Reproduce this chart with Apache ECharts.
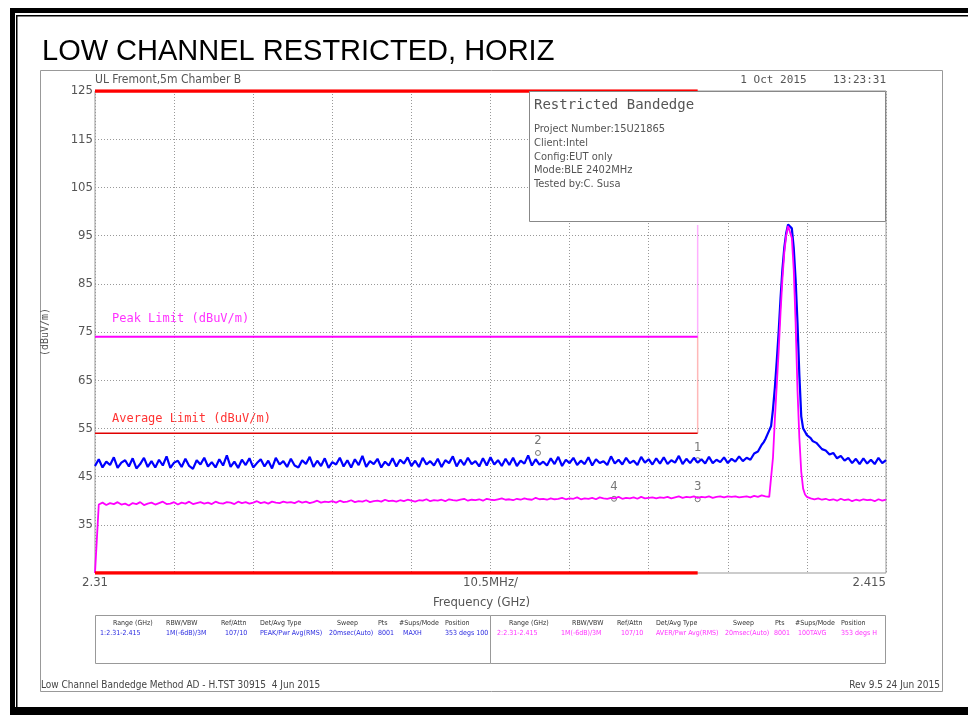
<!DOCTYPE html>
<html>
<head>
<meta charset="utf-8">
<title>LOW CHANNEL RESTRICTED, HORIZ</title>
<script src="https://cdn.jsdelivr.net/npm/echarts@6/dist/echarts.min.js"></script>
<style>
  html, body { margin: 0; padding: 0; background: #fff; }
  #main { width: 968px; height: 715px; }
</style>
</head>
<body>
<div id="main"></div>
<script>
// sweep grid (MHz) - trace readings every 0.5 MHz from 2310 to 2415
var sweepStart = 2310, sweepStep = 0.5;

// peak detector trace (blue), dBuV/m
var peakTrace = [
  47.2, 48.6, 46.9, 48.1, 47.4, 49.0, 46.8, 47.9, 48.4, 47.1,
  48.8, 46.7, 47.6, 48.9, 47.0, 48.2, 46.9, 48.5, 47.3, 49.2,
  46.8, 47.9, 48.3, 47.0, 48.7, 47.2, 46.6, 48.4, 47.5, 48.9,
  47.1, 48.0, 46.9, 48.6, 47.3, 49.4, 47.0, 48.1, 46.8, 48.5,
  47.4, 48.8, 46.9, 47.8, 48.6, 47.1, 48.3, 46.7, 48.9, 47.5,
  48.2, 47.0, 48.7, 47.3, 46.9, 48.4, 47.6, 49.1, 47.0, 48.3,
  47.2, 48.8, 46.8, 48.0, 47.5, 48.9, 47.1, 48.4, 46.9, 48.6,
  47.4, 49.3, 47.0, 48.2, 47.6, 48.7, 46.9, 48.1, 47.3, 48.8,
  47.1, 48.5, 47.7, 49.0, 47.2, 48.3, 47.0, 48.9, 47.5, 48.2,
  47.3, 48.7, 47.0, 48.4, 47.8, 49.2, 47.1, 48.5, 47.4, 48.9,
  47.6, 48.2, 47.1, 48.8, 47.3, 49.0, 47.5, 48.4, 47.2, 48.7,
  47.4, 48.9, 47.2, 48.3, 47.7, 49.4, 47.3, 48.6, 47.5, 48.1,
  47.3, 48.8, 47.6, 49.1, 47.2, 48.5, 47.8, 48.9, 47.4, 48.3,
  47.6, 49.0, 47.3, 48.6, 47.8, 48.2, 47.4, 49.2, 47.7, 48.5,
  47.5, 48.9, 47.8, 48.3, 47.4, 49.1, 47.9, 48.6, 47.5, 48.8,
  47.7, 49.0, 47.6, 48.4, 47.9, 49.3, 47.6, 48.7, 47.8, 48.9,
  47.9, 48.6, 47.7, 49.1, 47.8, 48.5, 48.0, 49.0, 47.8, 48.7,
  48.1, 49.2, 48.2, 48.9, 48.5, 49.8, 50.2, 51.6, 52.8, 54.6,
  59.0, 69.0, 82.0, 92.5, 97.3, 96.5, 86.0, 66.0, 55.0, 53.6,
  53.0, 52.1, 51.6, 50.7, 50.4, 49.6, 49.9, 48.8, 49.3, 48.3,
  48.9, 47.8, 48.7, 47.6, 48.8, 47.7, 48.5, 47.6, 48.9, 47.8,
  48.4
];

// average detector trace (magenta), dBuV/m
var avgTrace = [
  25.0, 39.2, 39.6, 39.1, 39.5, 39.3, 39.7, 39.2, 39.4, 39.0,
  39.5, 39.3, 39.7, 39.1, 39.4, 39.6, 39.2, 39.5, 39.8, 39.3,
  39.4, 39.7, 39.2, 39.6, 39.4, 39.8, 39.3, 39.5, 39.7, 39.4,
  39.6, 39.3, 39.8, 39.5, 39.4, 39.7, 39.6, 39.3, 39.8, 39.5,
  39.7, 39.4, 39.6, 39.9, 39.5, 39.7, 39.4, 39.8, 39.6, 39.5,
  39.8, 39.6, 39.7, 39.5, 39.9, 39.6, 39.8, 39.5, 39.7, 40.0,
  39.6, 39.8, 39.7, 39.9, 39.6, 40.0, 39.7, 39.8, 40.1, 39.7,
  39.9, 39.8, 40.1, 39.7, 39.9, 40.0, 39.8, 40.2, 39.9, 40.0,
  39.8, 40.1, 39.9, 40.2, 40.0, 39.8, 40.1, 40.0, 40.3, 39.9,
  40.1, 40.0, 40.2, 39.9, 40.3, 40.1, 40.0, 40.2, 40.4, 40.0,
  40.2, 40.1, 40.3, 40.0, 40.4, 40.2, 40.1, 40.3, 40.5, 40.2,
  40.3, 40.1, 40.4, 40.2, 40.5, 40.3, 40.2, 40.6, 40.3, 40.4,
  40.2, 40.5, 40.3, 40.4, 40.6, 40.3, 40.5, 40.4, 40.7, 40.3,
  40.5, 40.4, 40.6, 40.3, 40.7, 40.5, 40.4, 40.6, 40.5, 40.8,
  40.4, 40.6, 40.5, 40.7, 40.4, 40.8, 40.5, 40.6, 40.7, 40.5,
  40.7, 40.6, 40.8, 40.5, 40.7, 40.9, 40.6, 40.8, 40.7, 40.9,
  40.6, 40.8, 40.7, 40.9, 40.6, 40.8, 40.9, 40.7, 40.9, 40.8,
  40.9, 40.7, 40.8, 40.9, 40.7, 41.0, 40.8, 41.1, 40.9, 40.8,
  49.0, 64.0, 79.0, 91.5, 97.0, 94.5, 77.0, 53.0, 42.5, 40.8,
  40.5, 40.3, 40.5, 40.2, 40.4, 40.1, 40.3, 40.0, 40.4, 40.1,
  40.3, 39.9, 40.2, 40.0, 40.3, 40.1, 40.2, 39.9, 40.3, 40.0,
  40.2
];

// extra readings on the carrier (quarter MHz points)
var carrierFreq = [2398.25, 2398.75, 2399.25, 2399.75, 2400.25, 2400.75, 2401.25, 2401.75,
                   2402.25, 2402.75, 2403.25, 2403.75, 2404.25, 2404.75, 2405.25, 2405.75];
var carrierPeak = [50.6, 52.1, 53.7, 55.5, 63.5, 75.0, 88.0, 95.5,
                   97.6, 92.5, 77.0, 57.5, 54.3, 53.9, 52.4, 52.0];
var carrierAvg  = [40.9, 41.0, 40.8, 41.2, 57.0, 71.0, 86.0, 95.0,
                   96.8, 88.0, 63.0, 46.0, 41.3, 40.6, 40.4, 40.2];

// limits / restricted band
var bandEdge = [2310, 2390];
var peakLimit = 74, avgLimit = 54;
var bandEdgeTop = 97.2;

// markers
var markerNames = ['1', '2', '3', '4'];
var markerFreq  = [2390, 2368.8, 2390, 2378.9];
var markerLevel = [48.4, 49.9, 40.3, 40.4];
var markerTrace = ['peak', 'peak', 'avg', 'avg'];

// axis ticks
var yTicks = [125, 115, 105, 95, 85, 75, 65, 55, 45, 35];
var xSpan = [2310, 2415], xDiv = 10.5;

var plotFont = "'Liberation Sans Narrow', 'DejaVu Sans Condensed', sans-serif";
var monoFont = "'DejaVu Sans Mono', 'Liberation Mono', monospace";

function sweep(levels, extraF, extraL) {
  var pts = levels.map(function (v, i) { return [sweepStart + i * sweepStep, v]; });
  extraF.forEach(function (f, i) { pts.push([f, extraL[i]]); });
  return pts.sort(function (a, b) { return a[0] - b[0]; });
}

function markers(trace) {
  var out = [];
  markerNames.forEach(function (n, i) {
    if (markerTrace[i] === trace) out.push({ name: n, coord: [markerFreq[i], markerLevel[i]] });
  });
  return out;
}

function txt(x, y, s, size, color, align, font) {
  return {
    type: 'text', x: x, y: y, silent: true,
    style: { text: s, fontSize: size, fontFamily: font || plotFont, fill: color,
             align: align || 'left', verticalAlign: 'middle' }
  };
}

var graphics = [
  // outer black frame
  { type: 'rect', shape: { x: 10, y: 8, width: 958, height: 5 }, style: { fill: '#000' } },
  { type: 'rect', shape: { x: 16, y: 15, width: 952, height: 1.5 }, style: { fill: '#000' } },
  { type: 'rect', shape: { x: 10, y: 8, width: 5, height: 707 }, style: { fill: '#000' } },
  { type: 'rect', shape: { x: 16, y: 15, width: 1.5, height: 700 }, style: { fill: '#000' } },
  { type: 'rect', shape: { x: 10, y: 707, width: 958, height: 8 }, style: { fill: '#000' } },
  // inner plot sheet frame
  { type: 'rect', shape: { x: 40.5, y: 70.5, width: 902, height: 621 }, style: { fill: 'none', stroke: '#999', lineWidth: 1 } },
  txt(42, 52, 'LOW CHANNEL RESTRICTED, HORIZ', 29, '#000', 'left', "'Liberation Sans', Arial, sans-serif"),
  txt(95, 80, 'UL Fremont,5m Chamber B', 12, '#555'),
  txt(886, 80, '1 Oct 2015    13:23:31', 11, '#555', 'right', monoFont),
  // info box
  { type: 'rect', z: 10, shape: { x: 529.5, y: 91.5, width: 356, height: 130 }, style: { fill: '#fff', stroke: '#888', lineWidth: 1 } },
  Object.assign(txt(534, 105, 'Restricted Bandedge', 14, '#555', 'left', monoFont), { z: 11 }),
  Object.assign(txt(534, 129, 'Project Number:15U21865', 11, '#555'), { z: 11 }),
  Object.assign(txt(534, 143, 'Client:Intel', 11, '#555'), { z: 11 }),
  Object.assign(txt(534, 157, 'Config:EUT only', 11, '#555'), { z: 11 }),
  Object.assign(txt(534, 170, 'Mode:BLE 2402MHz', 11, '#555'), { z: 11 }),
  Object.assign(txt(534, 184, 'Tested by:C. Susa', 11, '#555'), { z: 11 }),
  // limit labels
  txt(112, 319, 'Peak Limit (dBuV/m)', 12, '#ff33ff', 'left', monoFont),
  txt(112, 419, 'Average Limit (dBuV/m)', 12, '#ff3333', 'left', monoFont),
  // settings table
  { type: 'rect', shape: { x: 95.5, y: 615.5, width: 790, height: 48 }, style: { fill: 'none', stroke: '#999', lineWidth: 1 } },
  { type: 'line', shape: { x1: 490.5, y1: 615.5, x2: 490.5, y2: 663.5 }, style: { stroke: '#999', lineWidth: 1 } },
  // footer
  txt(41, 685, 'Low Channel Bandedge Method AD - H.TST 30915  4 Jun 2015', 10, '#444'),
  txt(940, 685, 'Rev 9.5 24 Jun 2015', 10, '#444', 'right')
];

var tableHead = ['Range (GHz)', 'RBW/VBW', 'Ref/Attn', 'Det/Avg Type', 'Sweep', 'Pts', '#Sups/Mode', 'Position'];
var tableRow1 = ['1:2.31-2.415', '1M(-6dB)/3M', '107/10', 'PEAK/Pwr Avg(RMS)', '20msec(Auto)', '8001', 'MAXH', '353 degs 100'];
var tableRow2 = ['2:2.31-2.415', '1M(-6dB)/3M', '107/10', 'AVER/Pwr Avg(RMS)', '20msec(Auto)', '8001', '100TAVG', '353 degs H'];
var headX1 = [113, 166, 221, 260, 337, 378, 399, 445];
var rowX1  = [100, 166, 225, 260, 329, 378, 403, 445];
var headX2 = [509, 572, 617, 656, 733, 775, 795, 841];
var rowX2  = [497, 561, 621, 656, 725, 774, 798, 841];
tableHead.forEach(function (h, i) {
  graphics.push(txt(headX1[i], 623, h, 7, '#333'));
  graphics.push(txt(headX2[i], 623, h, 7, '#333'));
  graphics.push(txt(rowX1[i], 633, tableRow1[i], 7, '#2a2ae0'));
  graphics.push(txt(rowX2[i], 633, tableRow2[i], 7, '#ff33ff'));
});

var chart = echarts.init(document.getElementById('main'), null, { renderer: 'canvas' });

var option = {
  animation: false,
  backgroundColor: '#fff',
  grid: { left: 95, right: 82, top: 91, bottom: 142, show: true, borderColor: '#999', borderWidth: 1 },
  xAxis: {
    type: 'value', min: xSpan[0], max: xSpan[1], interval: xDiv,
    axisLine: { show: false }, axisTick: { show: false },
    splitLine: { show: true, lineStyle: { color: '#999', type: [1, 2], width: 1 } },
    axisLabel: {
      color: '#555', fontSize: 13, fontFamily: plotFont, margin: 3,
      alignMaxLabel: 'right',
      formatter: function (v) {
        if (Math.abs(v - xSpan[0]) < 0.01) return '2.31';
        if (Math.abs(v - xSpan[1]) < 0.01) return '2.415';
        if (Math.abs(v - (xSpan[0] + 5 * xDiv)) < 0.01) return '10.5MHz/';
        return '';
      }
    },
    name: 'Frequency (GHz)', nameLocation: 'middle', nameGap: 23,
    nameTextStyle: { color: '#555', fontSize: 13, fontFamily: plotFont, padding: [0, 18, 0, 0] }
  },
  yAxis: {
    type: 'value', min: 25, max: 125,
    axisLine: { show: false }, axisTick: { show: false }, axisLabel: { show: false },
    splitLine: { show: false },
    name: '(dBuV/m)', nameLocation: 'middle', nameGap: 45, nameRotate: 90,
    nameTextStyle: { color: '#555', fontSize: 10, fontFamily: monoFont }
  },
  graphic: graphics,
  series: [
    {
      // horizontal grid + level labels
      type: 'line', data: [], z: 1, silent: true,
      markLine: {
        symbol: 'none', silent: true,
        lineStyle: { color: '#999', type: [1, 2], width: 1 },
        label: { position: 'start', distance: 2, color: '#555', fontSize: 13, fontFamily: plotFont, formatter: '{c}' },
        data: yTicks.map(function (t) { return { yAxis: t }; })
      }
    },
    {
      name: 'Peak', type: 'line', z: 5, symbol: 'none',
      lineStyle: { color: '#0000ff', width: 2.2 },
      data: sweep(peakTrace, carrierFreq, carrierPeak),
      markPoint: {
        symbol: 'circle', symbolSize: 5,
        itemStyle: { color: 'rgba(0,0,0,0)', borderColor: '#777', borderWidth: 1 },
        label: { show: true, position: 'top', distance: 3, color: '#777', fontSize: 13, fontFamily: plotFont, formatter: '{b}' },
        data: markers('peak')
      }
    },
    {
      name: 'Average', type: 'line', z: 5, symbol: 'none',
      lineStyle: { color: '#ff00ff', width: 1.8 },
      data: sweep(avgTrace, carrierFreq, carrierAvg),
      markPoint: {
        symbol: 'circle', symbolSize: 5,
        itemStyle: { color: 'rgba(0,0,0,0)', borderColor: '#777', borderWidth: 1 },
        label: { show: true, position: 'top', distance: 3, color: '#777', fontSize: 13, fontFamily: plotFont, formatter: '{b}' },
        data: markers('avg')
      }
    },
    {
      name: 'Peak Limit', type: 'line', z: 4, symbol: 'none',
      lineStyle: { color: '#ff00ff', width: 2 },
      data: [[bandEdge[0], peakLimit], [bandEdge[1], peakLimit]]
    },
    {
      name: 'Average Limit', type: 'line', z: 4, symbol: 'none',
      lineStyle: { color: '#e00000', width: 1.5 },
      data: [[bandEdge[0], avgLimit], [bandEdge[1], avgLimit]]
    },
    {
      name: 'Edge low', type: 'line', z: 3, symbol: 'none',
      lineStyle: { color: '#ffb8b8', width: 1.5 },
      data: [[bandEdge[1], avgLimit], [bandEdge[1], peakLimit]]
    },
    {
      name: 'Edge high', type: 'line', z: 3, symbol: 'none',
      lineStyle: { color: '#ffb0ff', width: 1.5 },
      data: [[bandEdge[1], peakLimit], [bandEdge[1], bandEdgeTop]]
    },
    {
      name: 'Band top', type: 'line', z: 6, symbol: 'none',
      lineStyle: { color: '#ff0000', width: 3.5 },
      data: [[bandEdge[0], 125], [bandEdge[1], 125]]
    },
    {
      name: 'Band bottom', type: 'line', z: 6, symbol: 'none',
      lineStyle: { color: '#ff0000', width: 3.5 },
      data: [[bandEdge[0], 25], [bandEdge[1], 25]]
    }
  ]
};

chart.setOption(option);
</script>
</body>
</html>
